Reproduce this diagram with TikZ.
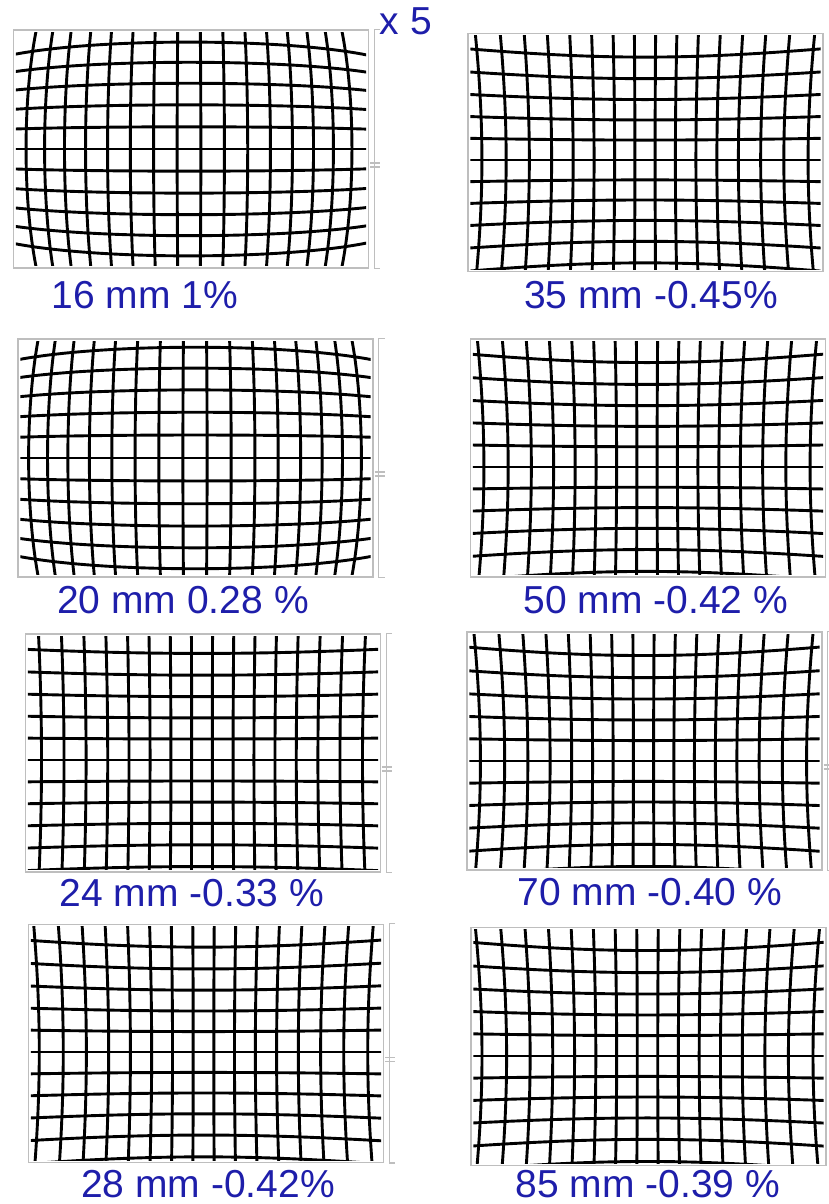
\documentclass[tikz,border=0pt]{standalone}
\usepackage{fontspec}
\setmainfont{Liberation Sans}
\usetikzlibrary{calc}
\definecolor{labelblue}{RGB}{30,30,170}
\definecolor{framegray}{RGB}{190,190,190}
\def\boxwid{355pt}
\def\boxhgt{238pt}

% distorted grid inside a frame node
% #1 frame, (#2,#3) grid centre, #4 / #5 cell size, #6 distortion
\newcommand{\lensgrid}[6]{%
    \begin{scope}
        \clip ($(#1.south west)+(3,3)$) rectangle ($(#1.north east)+(-3,-3)$);
        \foreach \u in {-7.5,-6.5,...,7.5} {
            \draw [gridline] plot [smooth, domain=-7:7, samples=29, variable=\v]
                ({#2+#4*(\u)*(1+(#6)*((\u)*(\u)+(\v)*(\v))/25)},
                 {#3+#5*(\v)*(1+(#6)*((\u)*(\u)+(\v)*(\v))/25)});
        }
        \foreach \v in {-5,...,5} {
            \draw [gridline] plot [smooth, domain=-9:9, samples=37, variable=\u]
                ({#2+#4*(\u)*(1+(#6)*((\u)*(\u)+(\v)*(\v))/25)},
                 {#3+#5*(\v)*(1+(#6)*((\u)*(\u)+(\v)*(\v))/25)});
        }
    \end{scope}
}

\begin{document}
\begin{tikzpicture}[
            x=1pt, y=1pt,
            lensbox/.style={%
                rectangle, draw=framegray, line width=1.2pt, fill=white,%
                minimum width=\boxwid, minimum height=\boxhgt, inner sep=0pt%
            },
            gridline/.style={black, line width=2.9pt},
            bracket/.style={framegray, line width=1.2pt},
            lenslabel/.style={%
                anchor=base, inner sep=0pt, text=labelblue,%
                font=\fontsize{39}{42}\selectfont%
            }
        ]
        \useasboundingbox (0,0) rectangle (828,1204);

        % Define frames
        \node (box16) [lensbox] at (191,1055) {};
        \node (box35) [lensbox] at (645.5,1051.5) {};
        \node (box20) [lensbox] at (195.5,746) {};
        \node (box50) [lensbox] at (648,746) {};
        \node (box24) [lensbox] at (203,451) {};
        \node (box70) [lensbox] at (644.5,453) {};
        \node (box28) [lensbox] at (206,160.5) {};
        \node (box85) [lensbox] at (648.5,157.5) {};

        % Grids
        \lensgrid{box16}{189}{1055}{23.7}{22.2}{-0.037}
        \lensgrid{box35}{645}{1044}{20.2}{19.9}{0.034}
        \lensgrid{box20}{195}{746}{24.2}{23}{-0.037}
        \lensgrid{box50}{647}{737}{20.2}{20.2}{0.034}
        \lensgrid{box24}{202}{444}{20.7}{21}{0.015}
        \lensgrid{box70}{643.5}{443}{20.2}{20.4}{0.034}
        \lensgrid{box28}{203.5}{152}{20.6}{20.4}{0.028}
        \lensgrid{box85}{647.5}{148}{20.5}{20.4}{0.034}

        % Brackets
        \foreach \b in {box16,box20,box24,box28,box70} {
            \draw [bracket] ($(\b.north east)+(11,0)$) -- ($(\b.north east)+(5,0)$)
                -- ($(\b.south east)+(5,0)$) -- ($(\b.south east)+(11,0)$);
            \draw [bracket] ($(\b.east)+(1,-14)$) -- ++(10,0)
                ($(\b.east)+(1,-18)$) -- ++(10,0);
        }

        % Labels
        \node (times5) [lenslabel] at (406,1169) {x 5};
        \node (lab16) [lenslabel] at (145,895) {16 mm 1\%};
        \node (lab35) [lenslabel] at (651,895) {35 mm -0.45\%};
        \node (lab20) [lenslabel] at (183,590) {20 mm 0.28 \%};
        \node (lab50) [lenslabel] at (656,590) {50 mm -0.42 \%};
        \node (lab24) [lenslabel] at (192,297) {24 mm -0.33 \%};
        \node (lab70) [lenslabel] at (650,298) {70 mm -0.40 \%};
        \node (lab28) [lenslabel] at (208,6) {28 mm -0.42\%};
        \node (lab85) [lenslabel] at (648,6) {85 mm -0.39 \%};

\end{tikzpicture}
\end{document}
